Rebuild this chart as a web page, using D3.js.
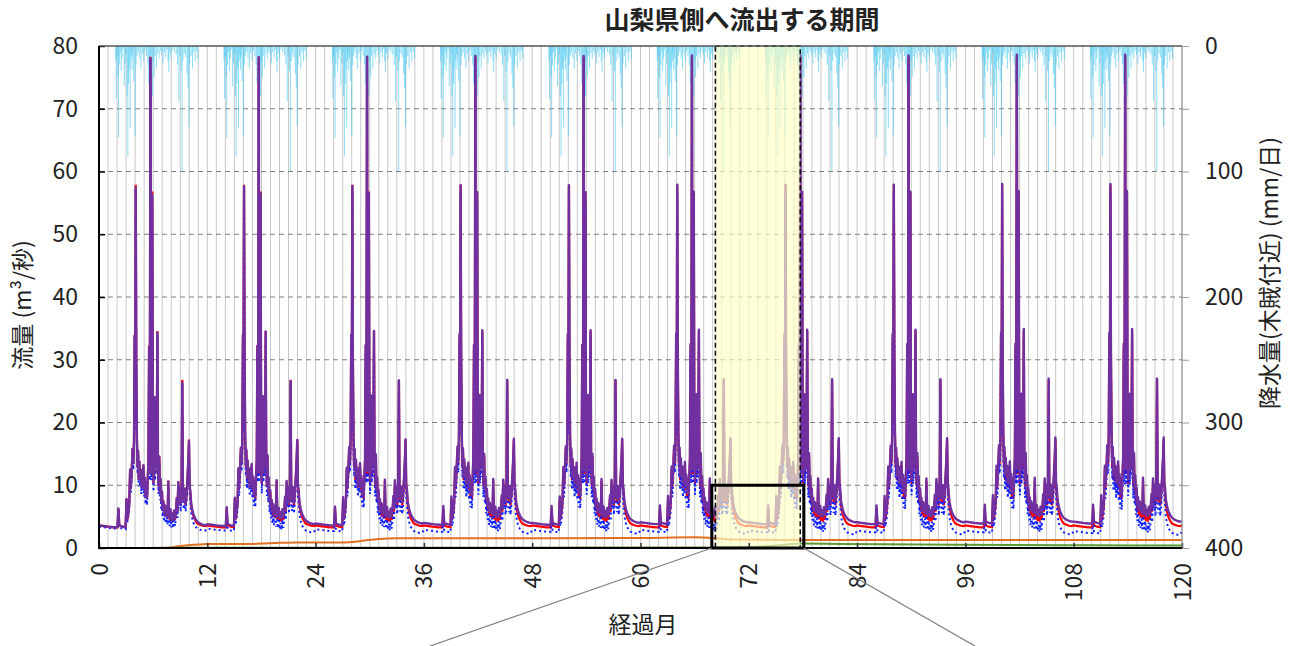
<!DOCTYPE html>
<html><head><meta charset="utf-8">
<script src="https://cdn.jsdelivr.net/npm/d3@7"></script>
<style>
body{margin:0;background:#fff;}
text{font-family:"Noto Sans CJK JP","Noto Sans",sans-serif;fill:#222;}
</style>
</head><body>
<svg id="c" width="1300" height="646"></svg>
<script>
// ---------- data ----------
const title = "山梨県側へ流出する期間";
const xLabel = "経過月";
const yLabelLeft = "流量 (m³/秒)";
const yLabelRight = "降水量(木賊付近) (mm/日)";
const xTicks = [0,12,24,36,48,60,72,84,96,108,120];
const yTicks = [0,10,20,30,40,50,60,70,80];
const rTicks = [0,100,200,300,400];
const nYears = 10;

// month offsets within one year (pattern repeats each year of the simulation)
const tYear = [
 0,0.5,1.0,1.6,2.05,2.15,2.25,2.6,2.95,3.05,
 3.12,3.25,3.35,3.45,3.52,3.62,3.72,3.8,3.88,3.95,
 4.0,4.07,4.13,4.2,4.27,4.33,4.4,4.47,4.55,4.62,
 4.7,4.77,4.85,4.92,5.0,5.08,5.16,5.24,5.32,5.4,
 5.48,5.55,5.62,5.7,5.76,5.82,5.9,5.97,6.04,6.1,
 6.17,6.22,6.3,6.38,6.47,6.53,6.6,6.68,6.75,6.82,
 6.9,6.98,7.05,7.13,7.22,7.32,7.42,7.52,7.6,7.68,
 7.74,7.82,7.92,8.02,8.12,8.22,8.32,8.42,8.52,8.62,
 8.7,8.79,8.86,8.95,9.05,9.15,9.23,9.3,9.4,9.5,
 9.6,9.7,9.8,9.9,9.97,10.04,10.12,10.22,10.35,10.5,
 10.7,10.9,11.2,11.5,11.8];
const purpleYear = [
 3.6,3.5,3.4,3.3,3.3,6.3,3.6,3.4,3.3,7.8,
 4.5,5.5,7.0,12.5,9.5,12.0,15.8,13.5,17.0,33.7,
 20.0,57.4,30.0,17.7,13.0,15.5,11.0,13.8,11.2,12.5,
 9.8,12.0,10.5,13.2,9.5,11.2,8.3,10.5,8.0,11.0,
 14.0,32.0,12.0,78.0,20.0,12.0,56.3,15.0,10.4,14.0,
 24.0,12.0,17.0,13.0,34.3,14.5,10.0,14.6,9.0,11.0,
 7.5,9.0,6.3,7.5,5.5,6.8,5.2,6.5,5.0,10.6,
 6.5,4.8,6.2,4.6,5.5,4.5,6.0,4.8,5.8,8.0,
 6.0,10.5,8.0,9.5,7.0,9.0,26.4,9.0,7.5,9.5,
 7.0,8.5,11.0,14.0,17.0,10.0,9.0,7.0,6.0,5.2,
 4.6,4.2,3.9,3.7,3.6];
const redYear = [
 3.6,3.5,3.4,3.3,3.3,6.3,3.6,3.4,3.3,7.8,
 4.5,5.5,7.0,12.6,9.4,12.0,15.9,13.4,17.2,34.0,
 19.8,57.9,29.8,17.5,12.8,15.5,10.8,13.8,11.0,12.5,
 9.6,12.0,10.3,13.2,9.3,11.2,8.1,10.5,7.8,11.0,
 14.0,32.3,11.8,78.3,19.8,11.8,56.8,14.8,10.2,14.0,
 24.2,11.8,17.0,12.8,34.6,14.3,9.8,14.6,8.8,11.0,
 7.2,9.0,6.0,7.4,5.2,6.7,4.9,6.4,4.7,10.7,
 6.2,4.5,6.0,4.3,5.3,4.2,5.8,4.5,5.6,8.0,
 5.8,10.6,7.8,9.5,6.8,9.0,26.8,8.8,7.3,9.5,
 6.8,8.5,11.0,14.0,17.3,9.8,8.8,6.7,5.7,4.9,
 4.3,3.9,3.7,3.55,3.5];
const blueYear = [
 3.4,3.3,3.2,3.1,3.1,6.0,3.3,3.1,3.0,7.4,
 4.0,5.0,6.4,11.8,8.6,11.2,15.0,12.5,16.2,33.5,
 18.8,57.2,29.0,16.5,11.8,14.5,9.8,12.8,10.0,11.5,
 8.6,11.0,9.2,12.2,8.2,10.2,7.0,9.4,6.8,10.0,
 13.0,31.5,10.8,77.8,19.0,10.8,56.0,14.0,9.0,13.0,
 23.5,10.8,16.0,11.8,34.0,13.2,8.6,13.6,7.6,9.8,
 6.0,7.8,5.0,6.3,4.2,5.6,3.9,5.3,3.7,9.8,
 5.0,3.5,5.0,3.3,4.3,3.2,4.8,3.5,4.7,7.2,
 4.8,9.8,6.8,8.6,5.8,8.0,26.2,7.8,6.2,8.5,
 5.8,7.5,10.0,13.2,16.5,8.6,7.6,5.6,4.6,3.9,
 3.4,3.1,2.9,2.8,2.8];
// per-year level differences read from the recessions
const purpleShift = [0,0.2,0.3,0.4,0.4,0.5,0.5,0.5,0.6,0.6];
const redShift    = [0,0,0,0,0,0,0,0,0,0];
const blueShift   = [0,-0.3,-0.4,-0.5,-0.5,-0.5,-0.6,-0.6,-0.6,-0.7];

// daily rainfall pattern within one year: [month offset, mm]
const rainYear = [
 [1.8,12],[1.85,42],[1.95,8],[2.05,25],[2.1,73],[2.2,15],[2.3,5],[2.4,20],[2.5,10],[2.6,3],
 [2.75,32],[2.85,14],[2.95,6],[3.05,40],[3.14,88],[3.22,30],[3.3,18],[3.4,65],[3.48,12],[3.55,6],
 [3.62,19],[3.7,9],[3.8,28],[3.95,72],[4.05,15],[4.15,8],[4.3,5],[4.45,10],[4.6,18],[4.75,6],
 [4.9,12],[5.05,4],[5.2,8],[5.35,15],[5.45,30],[5.55,64],[5.65,20],[5.75,92],[5.85,40],[5.95,12],
 [6.05,25],[6.15,8],[6.3,18],[6.45,6],[6.6,10],[6.75,4],[6.9,7],[7.05,14],[7.2,5],[7.35,9],
 [7.5,3],[7.6,12],[7.68,21],[7.8,6],[7.95,10],[8.1,3],[8.3,5],[8.5,7],[8.65,15],[8.8,44],
 [8.9,8],[9.05,20],[9.15,100],[9.25,12],[9.4,6],[9.55,9],[9.7,22],[9.8,33],[9.9,64],[10.0,15],
 [10.15,8],[10.3,18],[10.45,5],[10.6,12],[10.75,4],[10.9,10]];

// slowly varying series: [month, value]
const orangeData = [[2,0.02],[5,0.02],[7.5,0.05],[9,0.3],[11,0.55],[12,0.62],[16,0.62],[18,0.7],[20,0.82],[22,0.88],[27,0.88],[29,1.1],[31,1.45],[33,1.55],[40,1.55],[50,1.55],[60,1.6],[66,1.7],[68,1.6],[70,1.35],[78,1.28],[120,1.28]];
const greenData = [[7.5,0.04],[40,0.05],[68,0.08],[72,0.15],[75,0.4],[78,0.7],[82,0.65],[95,0.5],[110,0.42],[120,0.38]];

// highlight annotation (months / flow)
const highlightRange = [68.3, 77.7];
const zoomBox = [67.9, 78.1, 0, 10];
const zoomLineEnds = [430, 975];

// ---------- build ----------
function expand(vals, shifts){
  const out=[];
  for(let yr=0; yr<nYears; yr++){
    tYear.forEach((t,i)=>out.push([yr*12+t, vals[i]+shifts[yr]]));
  }
  out.push([120, vals[0]+shifts[nYears-1]]);
  return out;
}
const purple = expand(purpleYear, purpleShift);
const red = expand(redYear, redShift);
const blue = expand(blueYear, blueShift);
const rain=[];
for(let yr=0; yr<nYears; yr++) rainYear.forEach(d=>rain.push([yr*12+d[0], d[1]]));

const L=99,R=1182,T=46,B=548;
const x=d3.scaleLinear([0,120],[L,R]);
const y=d3.scaleLinear([0,80],[B,T]);
const yR=d3.scaleLinear([0,400],[T,B]);
const svg=d3.select("#c");

// vertical month gridlines
svg.append("g").selectAll("line").data(d3.range(1,120)).join("line")
  .attr("x1",d=>x(d)).attr("x2",d=>x(d)).attr("y1",T).attr("y2",B)
  .attr("stroke","#c8c8c8").attr("stroke-width",1);
// horizontal dashed gridlines
svg.append("g").selectAll("line").data(yTicks.filter(v=>v>0&&v<80)).join("line")
  .attr("x1",L).attr("x2",R).attr("y1",d=>y(d)).attr("y2",d=>y(d))
  .attr("stroke","#7f7f7f").attr("stroke-width",1.2).attr("stroke-dasharray","5,4");

// rain bars from top
svg.append("g").selectAll("rect").data(rain).join("rect")
  .attr("x",d=>x(d[0])).attr("width",1).attr("y",T).attr("height",d=>yR(d[1])-T)
  .attr("fill","#45c8f2").attr("opacity",0.62);

const line=d3.line().x(d=>x(d[0])).y(d=>y(d[1]));
svg.append("path").attr("d",line.curve(d3.curveMonotoneX)(orangeData)).attr("fill","none").attr("stroke","#e07020").attr("stroke-width",2);
svg.append("path").attr("d",line.curve(d3.curveMonotoneX)(greenData)).attr("fill","none").attr("stroke","#5a9a30").attr("stroke-width",2);
line.curve(d3.curveLinear);
svg.append("path").attr("d",line(red)).attr("fill","none").attr("stroke","#ff0000").attr("stroke-width",2.2);
svg.append("path").attr("d",line(blue)).attr("fill","none").attr("stroke","#1020ff").attr("stroke-width",2).attr("stroke-dasharray","2,3");
svg.append("path").attr("d",line(purple)).attr("fill","none").attr("stroke","#7030a0").attr("stroke-width",2.4).attr("stroke-linejoin","round");

// highlight overlay
svg.append("rect").attr("x",x(highlightRange[0])).attr("width",x(highlightRange[1])-x(highlightRange[0]))
  .attr("y",T).attr("height",B-T).attr("fill","#ffffc4").attr("opacity",0.66);
svg.append("rect").attr("x",x(highlightRange[0])).attr("width",x(highlightRange[1])-x(highlightRange[0]))
  .attr("y",T).attr("height",B-T).attr("fill","none").attr("stroke","#111").attr("stroke-width",1.6).attr("stroke-dasharray","5,3");

// axes
const fs=23;
const gl=svg.append("g").attr("transform",`translate(${L},0)`).call(d3.axisLeft(y).tickValues(yTicks).tickSize(-6).tickPadding(21));
gl.select(".domain").remove();
gl.selectAll("line").attr("stroke","#000").attr("stroke-width",1.5);
gl.selectAll("text").attr("font-size",fs).attr("fill","#222");

const gr=svg.append("g").attr("transform",`translate(${R},0)`).call(d3.axisRight(yR).tickValues(rTicks).tickSize(7).tickPadding(16));
gr.select(".domain").remove();
gr.selectAll("line").attr("stroke","#999");
gr.selectAll("text").attr("font-size",fs).attr("fill","#222");
const gr2=svg.append("g").attr("transform",`translate(${R},0)`).call(d3.axisRight(yR).tickValues([50,150,250,350]).tickSize(7).tickFormat(""));
gr2.select(".domain").remove();
gr2.selectAll("line").attr("stroke","#999");

const gb=svg.append("g").attr("transform",`translate(0,${B})`).call(d3.axisBottom(x).tickValues(xTicks).tickSize(-5));
gb.select(".domain").remove();
gb.selectAll("line").attr("stroke","#333").attr("stroke-width",1.5);
gb.selectAll("text").attr("font-size",fs).attr("fill","#222")
  .attr("transform","rotate(-90)").attr("x",-15).attr("y",0).attr("dy","0.35em").attr("text-anchor","end");

// frame
svg.append("line").attr("x1",L).attr("x2",R).attr("y1",T).attr("y2",T).attr("stroke","#555").attr("stroke-width",1.5);
svg.append("line").attr("x1",R).attr("x2",R).attr("y1",T).attr("y2",B).attr("stroke","#888").attr("stroke-width",1.2);
svg.append("line").attr("x1",L).attr("x2",L).attr("y1",T).attr("y2",B+1).attr("stroke","#000").attr("stroke-width",2);
svg.append("line").attr("x1",L-1).attr("x2",R).attr("y1",B).attr("y2",B).attr("stroke","#000").attr("stroke-width",2);

// zoom box + lines
svg.append("rect").attr("x",x(zoomBox[0])).attr("y",y(zoomBox[3])).attr("width",x(zoomBox[1])-x(zoomBox[0])).attr("height",y(zoomBox[2])-y(zoomBox[3]))
  .attr("fill","none").attr("stroke","#000").attr("stroke-width",3);
svg.append("line").attr("x1",x(zoomBox[0])).attr("y1",y(0)).attr("x2",zoomLineEnds[0]).attr("y2",646).attr("stroke","#808080").attr("stroke-width",1.3);
svg.append("line").attr("x1",x(zoomBox[1])).attr("y1",y(0)).attr("x2",zoomLineEnds[1]).attr("y2",646).attr("stroke","#808080").attr("stroke-width",1.3);

// labels
svg.append("text").attr("x",742).attr("y",29).attr("text-anchor","middle")
  .attr("font-size",25).attr("font-weight","bold").text(title);
svg.append("text").attr("x",643).attr("y",627).attr("text-anchor","middle").attr("dominant-baseline","middle")
  .attr("font-size",23).text(xLabel);
svg.append("text").attr("transform","translate(25,305) rotate(-90)").attr("text-anchor","middle").attr("dominant-baseline","middle")
  .attr("font-size",23).text(yLabelLeft);
svg.append("text").attr("transform","translate(1272,273) rotate(-90)").attr("text-anchor","middle").attr("dominant-baseline","middle")
  .attr("font-size",23).text(yLabelRight);
</script>
</body></html>
